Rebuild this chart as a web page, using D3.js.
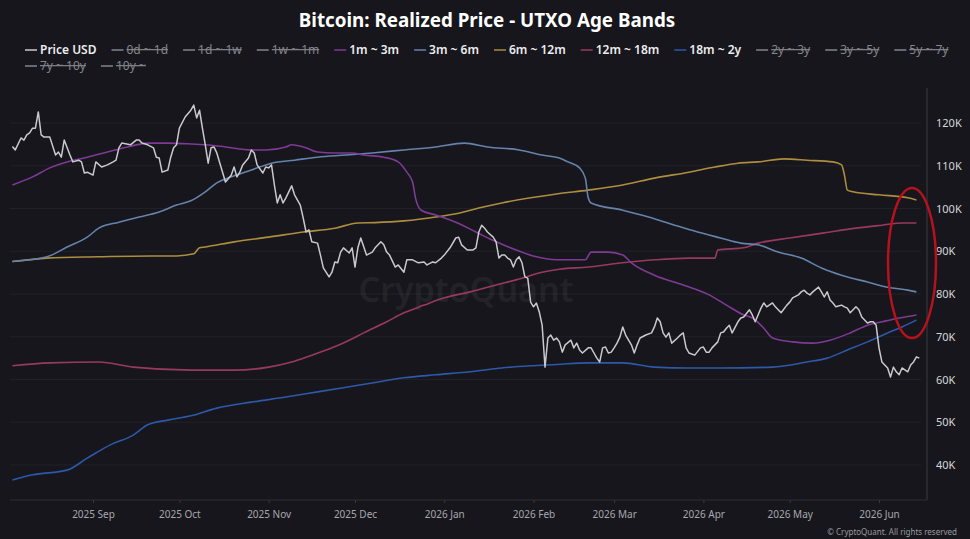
<!DOCTYPE html>
<html>
<head>
<meta charset="utf-8">
<script src="https://cdn.jsdelivr.net/npm/d3@7"></script>
<style>
  body { margin: 0; background: #16161c; }
  svg { display: block; font-family: "Noto Sans", "Open Sans", sans-serif; }
</style>
</head>
<body>
<svg id="chart" width="970" height="539"></svg>
<script>
// all values in thousand USD
const priceUsd = [
  ["2025-08-04",114.5],["2025-08-05",113.7],["2025-08-07",116.5],["2025-08-08",116.0],["2025-08-09",117.2],
  ["2025-08-10",117.7],["2025-08-11",118.8],["2025-08-12",118.8],["2025-08-13",122.6],["2025-08-14",117.2],
  ["2025-08-15",116.7],["2025-08-17",116.7],["2025-08-19",112.5],["2025-08-20",113.2],["2025-08-21",112.0],
  ["2025-08-22",116.0],["2025-08-24",112.5],["2025-08-25",110.9],["2025-08-27",111.3],["2025-08-28",110.9],
  ["2025-08-29",108.3],["2025-08-30",108.5],["2025-09-01",107.8],["2025-09-02",110.9],["2025-09-04",109.7],
  ["2025-09-06",110.2],["2025-09-08",110.9],["2025-09-09",111.3],["2025-09-10",114.2],["2025-09-11",115.3],
  ["2025-09-14",114.9],["2025-09-16",116.0],["2025-09-17",116.0],["2025-09-18",115.3],["2025-09-20",114.9],
  ["2025-09-22",114.2],["2025-09-23",112.0],["2025-09-24",111.8],["2025-09-25",108.5],["2025-09-27",109.0],
  ["2025-09-28",112.0],["2025-09-29",114.2],["2025-09-30",114.9],["2025-10-01",118.8],["2025-10-03",121.4],
  ["2025-10-05",123.0],["2025-10-06",124.2],["2025-10-07",121.2],["2025-10-08",123.0],["2025-10-09",118.8],
  ["2025-10-10",114.9],["2025-10-11",110.6],["2025-10-12",114.2],["2025-10-13",114.4],["2025-10-14",113.0],
  ["2025-10-16",108.5],["2025-10-17",106.2],["2025-10-19",107.8],["2025-10-20",109.7],["2025-10-21",107.4],
  ["2025-10-22",108.5],["2025-10-23",110.2],["2025-10-25",111.8],["2025-10-26",113.7],["2025-10-27",113.0],
  ["2025-10-28",110.2],["2025-10-30",108.3],["2025-10-31",109.7],["2025-11-01",109.5],["2025-11-02",110.2],
  ["2025-11-03",105.5],["2025-11-04",101.3],["2025-11-05",103.2],["2025-11-06",101.3],["2025-11-07",102.5],
  ["2025-11-08",103.9],["2025-11-09",105.3],["2025-11-10",103.2],["2025-11-12",100.8],["2025-11-13",97.8],
  ["2025-11-14",94.5],["2025-11-15",95.0],["2025-11-16",92.2],["2025-11-18",91.9],["2025-11-19",89.1],
  ["2025-11-20",86.1],["2025-11-22",84.0],["2025-11-23",85.1],["2025-11-24",87.5],["2025-11-25",87.3],
  ["2025-11-26",89.8],["2025-11-27",90.8],["2025-11-29",89.6],["2025-11-30",90.8],["2025-12-01",86.3],
  ["2025-12-02",90.8],["2025-12-03",93.1],["2025-12-05",89.1],["2025-12-07",89.8],["2025-12-08",90.8],
  ["2025-12-10",92.2],["2025-12-11",91.5],["2025-12-12",89.8],["2025-12-13",89.1],["2025-12-15",86.3],
  ["2025-12-16",86.8],["2025-12-18",85.1],["2025-12-19",88.0],["2025-12-21",88.0],["2025-12-23",87.3],
  ["2025-12-25",87.5],["2025-12-26",86.8],["2025-12-28",87.5],["2025-12-29",87.3],["2025-12-31",88.4],
  ["2026-01-01",89.1],["2026-01-03",90.8],["2026-01-05",93.1],["2026-01-06",93.3],["2026-01-07",91.5],
  ["2026-01-09",90.3],["2026-01-11",90.3],["2026-01-12",90.8],["2026-01-13",94.5],["2026-01-14",96.1],
  ["2026-01-15",95.4],["2026-01-16",94.5],["2026-01-18",93.3],["2026-01-19",92.2],["2026-01-20",88.4],
  ["2026-01-21",89.1],["2026-01-22",89.1],["2026-01-23",88.4],["2026-01-24",88.0],["2026-01-25",86.3],
  ["2026-01-26",88.0],["2026-01-27",88.7],["2026-01-28",87.3],["2026-01-29",84.0],["2026-01-30",83.7],
  ["2026-01-31",78.1],["2026-02-01",77.0],["2026-02-02",77.9],["2026-02-03",75.8],["2026-02-04",72.7],
  ["2026-02-05",62.9],["2026-02-06",69.7],["2026-02-07",70.4],["2026-02-08",69.2],["2026-02-09",69.7],
  ["2026-02-10",68.8],["2026-02-11",66.4],["2026-02-12",68.1],["2026-02-14",69.2],["2026-02-15",67.4],
  ["2026-02-16",68.5],["2026-02-17",66.9],["2026-02-18",66.2],["2026-02-20",67.4],["2026-02-21",67.4],
  ["2026-02-22",66.2],["2026-02-23",65.0],["2026-02-24",64.1],["2026-02-25",67.4],["2026-02-26",67.6],
  ["2026-02-27",66.2],["2026-02-28",66.4],["2026-03-01",67.4],["2026-03-02",68.5],["2026-03-03",69.9],
  ["2026-03-04",72.3],["2026-03-05",70.4],["2026-03-07",68.1],["2026-03-08",66.2],["2026-03-09",68.1],
  ["2026-03-10",69.7],["2026-03-12",70.4],["2026-03-14",70.9],["2026-03-15",72.3],["2026-03-16",74.4],
  ["2026-03-17",73.5],["2026-03-18",70.9],["2026-03-19",69.9],["2026-03-20",70.9],["2026-03-21",68.5],
  ["2026-03-23",69.7],["2026-03-24",70.4],["2026-03-25",70.9],["2026-03-26",67.4],["2026-03-27",66.2],
  ["2026-03-29",65.7],["2026-03-31",67.4],["2026-04-01",67.6],["2026-04-02",66.4],["2026-04-03",66.4],
  ["2026-04-04",67.4],["2026-04-06",68.8],["2026-04-07",70.9],["2026-04-08",71.1],["2026-04-09",72.0],
  ["2026-04-10",72.7],["2026-04-11",70.9],["2026-04-13",73.5],["2026-04-14",74.4],["2026-04-15",74.6],
  ["2026-04-17",76.3],["2026-04-18",75.1],["2026-04-19",73.5],["2026-04-20",75.1],["2026-04-21",76.7],
  ["2026-04-22",77.9],["2026-04-23",77.0],["2026-04-25",77.9],["2026-04-26",77.0],["2026-04-27",76.3],
  ["2026-04-28",75.6],["2026-04-30",77.4],["2026-05-01",78.1],["2026-05-02",79.1],["2026-05-04",79.8],
  ["2026-05-05",80.5],["2026-05-06",80.9],["2026-05-07",80.2],["2026-05-08",79.8],["2026-05-09",80.5],
  ["2026-05-11",81.6],["2026-05-12",80.5],["2026-05-13",79.3],["2026-05-14",80.5],["2026-05-15",78.6],
  ["2026-05-16",77.9],["2026-05-17",77.0],["2026-05-19",77.4],["2026-05-20",77.0],["2026-05-21",76.7],
  ["2026-05-22",75.6],["2026-05-23",76.3],["2026-05-24",77.0],["2026-05-25",76.3],["2026-05-26",74.6],
  ["2026-05-28",73.2],["2026-05-29",73.5],["2026-05-30",73.5],["2026-05-31",72.7],["2026-06-01",67.4],
  ["2026-06-02",64.1],["2026-06-04",62.7],["2026-06-05",60.6],["2026-06-06",62.9],["2026-06-07",61.8],
  ["2026-06-08",61.1],["2026-06-09",62.7],["2026-06-11",61.8],["2026-06-12",63.4],["2026-06-13",64.1],
  ["2026-06-14",65.3],["2026-06-15",65.0]
];

const band1m3m = [
  ["2025-08-04",105.5],["2025-08-11",107.4],["2025-08-17",109.5],["2025-08-23",110.9],["2025-08-30",112.0],
  ["2025-09-06",113.2],["2025-09-13",114.4],["2025-09-20",115.3],["2025-09-27",115.3],["2025-10-05",115.1],
  ["2025-10-10",114.9],["2025-10-17",114.4],["2025-10-26",113.7],["2025-10-31",113.7],["2025-11-07",114.4],
  ["2025-11-09",114.9],["2025-11-14",114.2],["2025-11-18",113.2],["2025-11-24",113.0],["2025-11-30",113.0],
  ["2025-12-04",112.5],["2025-12-11",112.0],["2025-12-16",110.9],["2025-12-19",108.5],["2025-12-21",106.2],
  ["2025-12-22",102.5],["2025-12-24",99.6],["2025-12-29",98.5],["2026-01-05",96.8],["2026-01-12",94.5],
  ["2026-01-19",92.2],["2026-01-26",90.3],["2026-02-02",88.7],["2026-02-09",88.0],["2026-02-19",88.0],
  ["2026-02-21",89.8],["2026-02-27",89.8],["2026-03-04",89.1],["2026-03-07",87.3],["2026-03-15",84.4],
  ["2026-03-25",82.1],["2026-04-03",79.8],["2026-04-09",77.4],["2026-04-15",75.1],["2026-04-18",74.4],
  ["2026-04-22",72.0],["2026-04-25",69.7],["2026-05-02",68.8],["2026-05-09",68.5],["2026-05-15",69.2],
  ["2026-05-22",70.9],["2026-05-28",72.7],["2026-06-02",73.5],["2026-06-08",74.4],["2026-06-14",75.1]
];

const band3m6m = [
  ["2025-08-04",87.6],["2025-08-16",88.7],["2025-08-23",91.0],["2025-08-30",93.3],["2025-09-03",95.4],
  ["2025-09-10",96.8],["2025-09-17",98.0],["2025-09-24",99.2],["2025-09-30",100.8],["2025-10-05",101.8],
  ["2025-10-10",103.9],["2025-10-14",106.0],["2025-10-19",107.4],["2025-10-26",109.0],["2025-11-02",110.6],
  ["2025-11-10",111.3],["2025-11-18",112.0],["2025-11-28",112.5],["2025-12-07",113.0],["2025-12-18",113.7],
  ["2025-12-29",114.4],["2026-01-08",115.3],["2026-01-16",114.4],["2026-01-27",113.7],["2026-02-04",112.5],
  ["2026-02-10",111.8],["2026-02-13",110.9],["2026-02-17",109.5],["2026-02-19",107.1],["2026-02-20",102.5],
  ["2026-02-21",101.3],["2026-03-04",99.6],["2026-03-13",98.0],["2026-03-22",96.1],["2026-03-30",94.5],
  ["2026-04-07",93.1],["2026-04-14",91.9],["2026-04-20",91.5],["2026-04-27",89.8],["2026-05-05",88.4],
  ["2026-05-12",86.1],["2026-05-19",84.4],["2026-05-28",82.8],["2026-06-04",81.6],["2026-06-11",80.9],
  ["2026-06-14",80.5]
];

const band6m12m = [
  ["2025-08-04",87.6],["2025-08-16",88.4],["2025-09-03",88.7],["2025-09-21",88.9],["2025-09-30",88.9],
  ["2025-10-06",89.4],["2025-10-08",90.8],["2025-10-10",91.0],["2025-10-20",92.2],["2025-11-01",93.3],
  ["2025-11-13",94.5],["2025-11-24",95.4],["2025-12-02",96.6],["2025-12-08",96.7],["2025-12-18",97.1],
  ["2025-12-29",98.0],["2026-01-06",98.9],["2026-01-13",100.1],["2026-01-21",101.3],["2026-01-31",102.5],
  ["2026-02-09",103.4],["2026-02-20",104.3],["2026-03-04",105.5],["2026-03-15",107.1],["2026-03-27",108.5],
  ["2026-04-05",109.7],["2026-04-13",110.6],["2026-04-20",110.9],["2026-04-29",111.6],["2026-05-07",111.3],
  ["2026-05-16",110.9],["2026-05-19",110.2],["2026-05-20",107.8],["2026-05-21",104.3],["2026-05-23",103.9],
  ["2026-06-01",103.2],["2026-06-11",102.5],["2026-06-14",102.0]
];

const band12m18m = [
  ["2025-08-04",63.2],["2025-08-17",63.9],["2025-09-03",64.1],["2025-09-15",62.9],["2025-10-05",62.2],
  ["2025-10-20",62.2],["2025-11-01",62.9],["2025-11-09",64.1],["2025-11-16",65.7],["2025-11-23",67.4],
  ["2025-11-29",69.2],["2025-12-04",70.9],["2025-12-12",73.5],["2025-12-18",75.6],["2025-12-25",77.4],
  ["2026-01-01",79.1],["2026-01-10",80.5],["2026-01-19",82.1],["2026-01-28",83.7],["2026-02-04",85.1],
  ["2026-02-10",85.8],["2026-02-20",86.3],["2026-03-04",87.3],["2026-03-15",88.0],["2026-03-27",88.4],
  ["2026-04-05",88.4],["2026-04-06",90.3],["2026-04-15",90.8],["2026-04-20",91.9],["2026-05-01",93.1],
  ["2026-05-13",94.3],["2026-05-24",95.4],["2026-06-02",96.1],["2026-06-09",96.6],["2026-06-14",96.6]
];

const band18m2y = [
  ["2025-08-04",36.5],["2025-08-11",37.7],["2025-08-23",38.8],["2025-08-30",41.6],["2025-09-07",44.7],
  ["2025-09-15",47.0],["2025-09-20",49.4],["2025-09-27",50.5],["2025-10-05",51.5],["2025-10-14",53.3],
  ["2025-10-26",54.7],["2025-11-07",55.9],["2025-11-18",57.1],["2025-11-28",58.2],["2025-12-07",59.2],
  ["2025-12-18",60.4],["2025-12-29",61.1],["2026-01-10",61.8],["2026-01-21",62.7],["2026-01-31",63.2],
  ["2026-02-09",63.5],["2026-02-20",63.9],["2026-03-04",63.9],["2026-03-15",62.9],["2026-03-27",62.7],
  ["2026-04-07",62.7],["2026-04-25",62.9],["2026-05-07",64.1],["2026-05-14",65.0],["2026-05-21",66.9],
  ["2026-05-28",68.8],["2026-06-04",70.9],["2026-06-09",72.3],["2026-06-14",73.9]
];

const legendLabels = ["Price USD", "0d ~ 1d", "1d ~ 1w", "1w ~ 1m", "1m ~ 3m", "3m ~ 6m", "6m ~ 12m",
  "12m ~ 18m", "18m ~ 2y", "2y ~ 3y", "3y ~ 5y", "5y ~ 7y", "7y ~ 10y", "10y ~"];
const hiddenLabels = ["0d ~ 1d", "1d ~ 1w", "1w ~ 1m", "2y ~ 3y", "3y ~ 5y", "5y ~ 7y", "7y ~ 10y", "10y ~"];
const yTicks = [40, 50, 60, 70, 80, 90, 100, 110, 120];

var colors = {
  "Price USD": "#cacace",
  "1m ~ 3m": "#7e3a94",
  "3m ~ 6m": "#6583ab",
  "6m ~ 12m": "#ae8d3f",
  "12m ~ 18m": "#983a60",
  "18m ~ 2y": "#2d59a8"
};

var parse = d3.utcParse("%Y-%m-%d");
function toPoints(arr) { return arr.map(function(d) { return { date: parse(d[0]), value: d[1] }; }); }

var series = [
  { name: "18m ~ 2y", data: toPoints(band18m2y) },
  { name: "12m ~ 18m", data: toPoints(band12m18m) },
  { name: "6m ~ 12m", data: toPoints(band6m12m) },
  { name: "3m ~ 6m", data: toPoints(band3m6m) },
  { name: "1m ~ 3m", data: toPoints(band1m3m) }
];

var svg = d3.select("#chart");
var plotLeft = 10, plotRight = 927, plotTop = 88, plotBottom = 500;

var x = d3.scaleUtc()
  .domain([parse("2025-09-01"), parse("2026-06-01")])
  .range([93, 879]);

var y = d3.scaleLinear()
  .domain([40, 120])
  .range([465, 123]);

// title
svg.append("text")
  .attr("x", 487).attr("y", 27)
  .attr("text-anchor", "middle")
  .style("font-size", "18.8px").style("font-weight", "700")
  .style("fill", "#ffffff")
  .text("Bitcoin: Realized Price - UTXO Age Bands");

// faint grid
svg.append("g").selectAll("line")
  .data(yTicks).enter().append("line")
  .attr("x1", plotLeft).attr("x2", plotRight - 6)
  .attr("y1", d => y(d)).attr("y2", d => y(d))
  .style("stroke", "#202027").style("stroke-width", 1);

// watermark
svg.append("text")
  .attr("x", 466).attr("y", 302)
  .attr("text-anchor", "middle")
  .style("font-size", "34px").style("font-weight", "600")
  .style("fill", "#ffffff").style("opacity", 0.05)
  .text("CryptoQuant");

// x axis
var months = d3.utcMonth.range(parse("2025-09-01"), parse("2026-06-02"));
var xAxis = svg.append("g")
  .attr("transform", "translate(0," + plotBottom + ")")
  .call(d3.axisBottom(x).tickValues(months).tickFormat(d3.utcFormat("%Y %b")).tickSize(3).tickPadding(8));
xAxis.select(".domain").remove();
xAxis.selectAll(".tick line").style("stroke", "#3a3a44");
xAxis.selectAll("text").style("fill", "#a8a8ae").style("font-size", "10px")
  .style("font-family", '"Noto Sans", sans-serif');
svg.append("line")
  .attr("x1", plotLeft).attr("x2", plotRight)
  .attr("y1", plotBottom).attr("y2", plotBottom)
  .style("stroke", "#2c2c34");

// y axis on the right
var yAxis = svg.append("g")
  .attr("transform", "translate(" + plotRight + ",0)")
  .call(d3.axisRight(y).tickValues(yTicks).tickFormat(d => d + "K").tickSize(0).tickPadding(9));
yAxis.select(".domain").remove();
yAxis.selectAll("text").style("fill", "#d6d6da").style("font-size", "11px")
  .style("font-family", '"Noto Sans", sans-serif');
svg.append("line")
  .attr("x1", plotRight).attr("x2", plotRight)
  .attr("y1", plotTop).attr("y2", plotBottom)
  .style("stroke", "#3a3a44");

// lines
var bandLine = d3.line()
  .x(d => x(d.date)).y(d => y(d.value))
  .curve(d3.curveMonotoneX);
var priceLine = d3.line()
  .x(d => x(d.date)).y(d => y(d.value));

svg.append("g").selectAll("path")
  .data(series).enter().append("path")
  .attr("d", d => bandLine(d.data))
  .style("fill", "none")
  .style("stroke", d => colors[d.name])
  .style("stroke-width", 1.6);

svg.append("path")
  .attr("d", priceLine(toPoints(priceUsd)))
  .style("fill", "none")
  .style("stroke", colors["Price USD"])
  .style("stroke-width", 1.5)
  .style("stroke-linejoin", "round");

// red annotation ellipse
svg.append("ellipse")
  .attr("cx", 912).attr("cy", 263)
  .attr("rx", 24).attr("ry", 75)
  .style("fill", "none")
  .style("stroke", "#b5121d")
  .style("stroke-width", 2.5);

// legend
var legend = svg.append("g");
var lx = 25, ly = 50;
legendLabels.forEach(function(name) {
  var hidden = hiddenLabels.indexOf(name) >= 0;
  var g = legend.append("g");
  var t = g.append("text")
    .attr("x", lx + 15).attr("y", ly + 4)
    .style("font-size", "12px")
    .style("font-weight", hidden ? "400" : "600")
    .style("fill", hidden ? "#85858c" : "#ececef")
    .style("text-decoration", hidden ? "line-through" : "none")
    .text(name);
  var w = t.node().getComputedTextLength();
  if (lx + 15 + w > 960) {
    lx = 25; ly += 16;
    t.attr("x", lx + 15).attr("y", ly + 4);
  }
  g.append("line")
    .attr("x1", lx).attr("x2", lx + 12)
    .attr("y1", ly).attr("y2", ly)
    .style("stroke", hidden ? "#85858c" : colors[name])
    .style("stroke-width", 1.5);
  lx += 15 + w + 15;
});

// credit
svg.append("text")
  .attr("x", 957).attr("y", 535)
  .attr("text-anchor", "end")
  .style("font-size", "8px")
  .style("fill", "#9a9aa0")
  .text("\u00a9 CryptoQuant. All rights reserved");
</script>
</body>
</html>
